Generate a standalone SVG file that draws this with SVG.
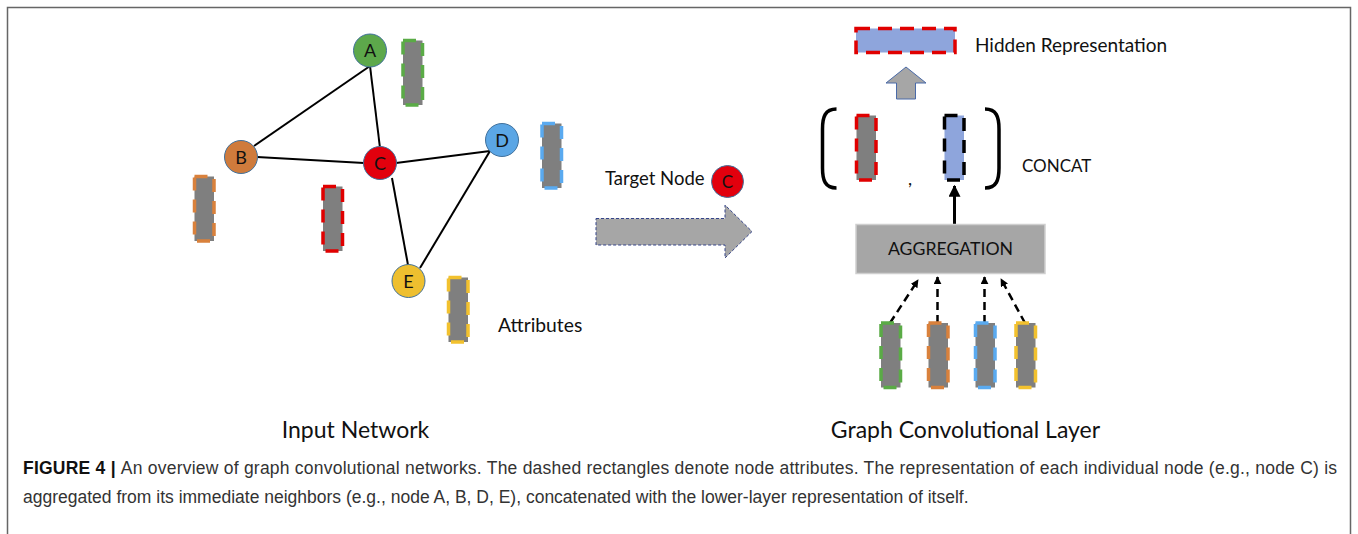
<svg xmlns="http://www.w3.org/2000/svg" width="1358" height="534" viewBox="0 0 1358 534">
<defs>
<style>
.lbl{font-family:Lato,"Open Sans","Liberation Sans",sans-serif;fill:#111}
.node circle{stroke:#41719c;stroke-width:1}
.attr{fill:#7f7f7f;stroke-width:3.5;stroke-dasharray:13 9}
.edge{stroke:#000;stroke-width:2}
.dash{stroke:#000;stroke-width:2.5;stroke-dasharray:8 5;fill:none}
.cap{font-family:"Liberation Sans",Arial,sans-serif;font-size:17.5px;fill:#333}
</style>
<marker id="ah" viewBox="0 0 10 10" refX="9" refY="5" markerWidth="4" markerHeight="4" orient="auto"><path d="M0,0 L10,5 L0,10 z" fill="#000"/></marker>
<marker id="ah2" viewBox="0 0 10 10" refX="9" refY="5" markerWidth="3.2" markerHeight="3.2" orient="auto"><path d="M0,0 L10,5 L0,10 z" fill="#000"/></marker>
</defs>
<rect width="1358" height="534" fill="#fff"/>
<path d="M7.5,534 V7.5 H1350.5 V534" fill="none" stroke="#666" stroke-width="1.5"/>

<g id="connectors">
<line class="edge" x1="370" y1="66" x2="254" y2="146"/>
<line class="edge" x1="370" y1="66" x2="380" y2="148"/>
<line class="edge" x1="257" y1="157" x2="364" y2="163"/>
<line class="edge" x1="396" y1="163" x2="490" y2="151"/>
<line class="edge" x1="392" y1="178" x2="408" y2="265"/>
<line class="edge" x1="490" y1="151" x2="420" y2="268"/>
<line stroke="#000" stroke-width="3" x1="954.5" y1="224" x2="954.5" y2="186" marker-end="url(#ah)"/>
<line class="dash" x1="890" y1="323" x2="918" y2="280" marker-end="url(#ah2)"/>
<line class="dash" x1="937.5" y1="323" x2="937.5" y2="277" marker-end="url(#ah2)"/>
<line class="dash" x1="984.5" y1="323" x2="984.5" y2="277" marker-end="url(#ah2)"/>
<line class="dash" x1="1025" y1="323" x2="1001" y2="279" marker-end="url(#ah2)"/>
</g>

<g id="node-A" class="node"><circle cx="370" cy="50.5" r="16.5" fill="#5da84b"/><text class="lbl" x="370" y="57" font-size="18" text-anchor="middle">A</text></g>
<g id="node-B" class="node"><circle cx="241" cy="157" r="16.5" fill="#cf7b3c"/><text class="lbl" x="241" y="163.5" font-size="18" text-anchor="middle">B</text></g>
<g id="node-C" class="node"><circle cx="380" cy="163" r="16.5" fill="#e2000d"/><text class="lbl" x="380" y="169.5" font-size="18" text-anchor="middle">C</text></g>
<g id="node-D" class="node"><circle cx="502" cy="140" r="16.5" fill="#5ba6e5"/><text class="lbl" x="502" y="146.5" font-size="18" text-anchor="middle">D</text></g>
<g id="node-E" class="node"><circle cx="408.5" cy="281" r="16.5" fill="#eebf2f"/><text class="lbl" x="408.5" y="287.5" font-size="18" text-anchor="middle">E</text></g>

<g id="attr-A"><rect class="attr" x="403" y="40.5" width="19.5" height="64.5" stroke="#5aab46"/></g>
<g id="attr-D"><rect class="attr" x="542" y="123.5" width="19.5" height="64.5" stroke="#5aaaf0"/></g>
<g id="attr-B"><rect class="attr" x="194.5" y="176.5" width="19.5" height="64.5" stroke="#d9813c"/></g>
<g id="attr-C"><rect class="attr" x="323" y="186.5" width="19.5" height="64.5" stroke="#e00000"/></g>
<g id="attr-E"><rect class="attr" x="448.5" y="277.5" width="19.5" height="64.5" stroke="#f2c12e"/></g>
<g id="attributes-label"><text class="lbl" x="498" y="332" font-size="19.3">Attributes</text></g>

<g id="target-node">
<text class="lbl" x="605" y="185" font-size="18.5">Target Node</text>
<circle cx="727.5" cy="181.5" r="16" fill="#e2000d" stroke="#41719c" stroke-width="1"/>
<text class="lbl" x="727.5" y="188" font-size="17" text-anchor="middle">C</text>
</g>
<g id="big-arrow"><polygon points="596,218.5 725,218.5 725,205 752,231.5 725,258 725,245 596,245" fill="#a6a6a6" stroke="#34448a" stroke-width="1" stroke-dasharray="3 2"/></g>

<g id="hidden-rep">
<rect x="856" y="28.5" width="99" height="24" fill="#8ea5dc" stroke="#e00000" stroke-width="3.5" stroke-dasharray="14 8"/>
<text class="lbl" x="975" y="52" font-size="19">Hidden Representation</text>
</g>
<g id="up-arrow"><polygon points="906,67 926,83 915.5,83 915.5,99 896.5,99 896.5,83 886,83" fill="#a6a6a6" stroke="#4a6aa8" stroke-width="1"/></g>

<g id="concat">
<path d="M836.5,109 C825,109 822.5,117 822.5,129 L822.5,168 C822.5,180 825,188 836.5,188" fill="none" stroke="#000" stroke-width="3.5"/>
<path d="M985,109 C996.5,109 999,117 999,129 L999,168 C999,180 996.5,188 985,188" fill="none" stroke="#000" stroke-width="3.5"/>
<rect class="attr" x="856.5" y="115.5" width="19.5" height="64.5" stroke="#e00000"/>
<text class="lbl" x="908" y="185" font-size="18">,</text>
<rect x="944.5" y="115.5" width="19.5" height="64.5" fill="#8ea5dc" stroke="#000" stroke-width="3.5" stroke-dasharray="13 9"/>
<text class="lbl" x="1022" y="172" font-size="17">CONCAT</text>
</g>

<g id="aggregation">
<rect x="856" y="224.5" width="189" height="49" fill="#a6a6a6" stroke="#cfcfcf" stroke-width="1.5"/>
<text class="lbl" x="950.5" y="255" font-size="17.7" text-anchor="middle">AGGREGATION</text>
</g>
<g id="nbr-A"><rect class="attr" x="881" y="323" width="19.5" height="64.5" stroke="#5aab46"/></g>
<g id="nbr-B"><rect class="attr" x="928.5" y="323" width="19.5" height="64.5" stroke="#d9813c"/></g>
<g id="nbr-D"><rect class="attr" x="975.5" y="323" width="19.5" height="64.5" stroke="#5aaaf0"/></g>
<g id="nbr-E"><rect class="attr" x="1016" y="323" width="19.5" height="64.5" stroke="#f2c12e"/></g>

<g id="titles">
<text class="lbl" x="355.5" y="438" font-size="23" text-anchor="middle">Input Network</text>
<text class="lbl" x="965.5" y="438" font-size="23" text-anchor="middle">Graph Convolutional Layer</text>
</g>
<g id="caption">
<text class="cap" x="23" y="474" textLength="1314" lengthAdjust="spacing"><tspan font-weight="bold" fill="#111">FIGURE 4 | </tspan>An overview of graph convolutional networks. The dashed rectangles denote node attributes. The representation of each individual node (e.g., node C) is</text>
<text class="cap" x="23" y="503">aggregated from its immediate neighbors (e.g., node A, B, D, E), concatenated with the lower-layer representation of itself.</text>
</g>
</svg>
